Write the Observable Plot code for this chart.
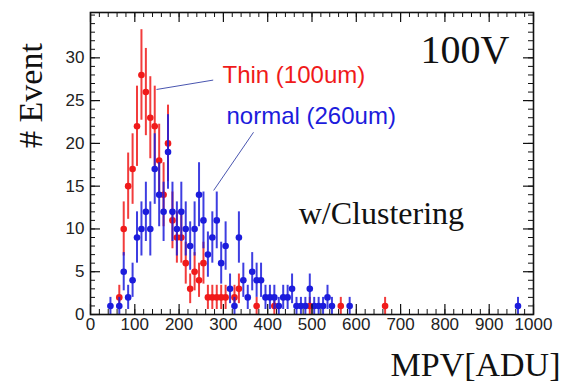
<!DOCTYPE html>
<html><head><meta charset="utf-8">
<script src="https://cdn.jsdelivr.net/npm/d3@7"></script>
<script src="https://cdn.jsdelivr.net/npm/@observablehq/plot@0.6"></script>
<style>body{margin:0;background:#fff}#chart{width:572px;height:388px}</style>
</head><body><div id="chart"></div>
<script>
// Thin (100um) histogram: bin centers (ADU) and counts
const thinX = [65,75,85,95,105,115,125,135,145,155,165,175,185,195,205,215,225,235,245,255,265,275,285,295,305,325,335,375,415,495,565,665];
const thinY = [2,10,15,17,22,28,26,23,22,18,14,20,11,9,9,6,3,5,4,6,2,2,2,2,2,2,3,1,1,1,1,1];
// normal (260um) histogram
const normalX = [45,65,75,85,95,105,115,125,135,145,155,165,175,185,195,205,215,225,235,245,255,265,275,285,295,305,315,325,335,345,355,365,375,385,395,405,415,425,435,445,455,465,475,485,495,505,515,525,535,545,585,965];
const normalY = [1,1,5,2,4,9,10,12,10,17,14,12,19,12,10,12,10,8,10,14,11,7,9,11,6,8,3,1,9,4,2,5,4,4,2,2,2,1,2,2,3,1,1,1,3,1,1,1,2,1,1,1];
// axes
const xMajorTicks = [0,100,200,300,400,500,600,700,800,900,1000];
const xMinorTicks = d3.range(0, 1001, 20);
const yMajorTicks = [0,5,10,15,20,25,30];
const yMinorTicks = d3.range(0, 36, 1);
const xDomain = [0, 1000];
const yDomain = [0, 35.3];
// annotations
const seriesNames = ["Thin (100um)", "normal (260um)"];
const seriesColors = ["#f01a1a", "#1c1cdc"];
const labelX = [298, 307];
const labelY = [27.9, 23.2];
const pointerFromX = [277, 368], pointerFromY = [27.4, 21.3];
const pointerToX = [149, 278], pointerToY = [26.3, 14.5];
const voltageText = "100V", voltageX = 745, voltageY = 30.9;
const clusterText = "w/Clustering", clusterX = 470, clusterY = 11.8;
const xTitle = "MPV[ADU]", yTitle = "# Event";

const W = 572, H = 388, mL = 90, mR = 39, mT = 12, mB = 74;
const plotW = W - mL - mR, plotH = H - mT - mB;
const majorLen = 10, minorLen = 5;

const mk = (xs, ys, s) => xs.map((x, i) => ({x, v: ys[i], lo: ys[i] - Math.sqrt(ys[i]), hi: ys[i] + Math.sqrt(ys[i]), s}));
const thin = mk(thinX, thinY, 0);
const normal = mk(normalX, normalY, 1);
const labels = seriesNames.map((t, i) => ({t, x: labelX[i], y: labelY[i], c: seriesColors[i]}));
const pointers = pointerFromX.map((x, i) => ({x1: x, y1: pointerFromY[i], x2: pointerToX[i], y2: pointerToY[i]}));

const sans = "'Liberation Sans', Arial, sans-serif";
const serif = "'Liberation Serif', 'Times New Roman', serif";

function histMarks(data, color) {
  return [
    Plot.ruleX(data, {x: "x", y1: "lo", y2: "hi", stroke: color, strokeWidth: 2, strokeOpacity: 0.85}),
    Plot.ruleY(data, {y: "v", x1: d => d.x - 5, x2: d => d.x + 5, stroke: color, strokeWidth: 2}),
    Plot.dot(data, {x: "x", y: "v", r: 3.3, fill: color, stroke: "none"})
  ];
}
function ticks() {
  const o = {stroke: "#111"};
  return [
    Plot.ruleX(xMajorTicks, {x: d => d, insetTop: plotH - majorLen, strokeWidth: 1.2, ...o}),
    Plot.ruleX(xMinorTicks, {x: d => d, insetTop: plotH - minorLen, ...o}),
    Plot.ruleX(xMajorTicks, {x: d => d, insetBottom: plotH - majorLen, strokeWidth: 1.2, ...o}),
    Plot.ruleX(xMinorTicks, {x: d => d, insetBottom: plotH - minorLen, ...o}),
    Plot.ruleY(yMajorTicks, {y: d => d, insetRight: plotW - majorLen, strokeWidth: 1.2, ...o}),
    Plot.ruleY(yMinorTicks, {y: d => d, insetRight: plotW - minorLen, ...o}),
    Plot.ruleY(yMajorTicks, {y: d => d, insetLeft: plotW - majorLen, strokeWidth: 1.2, ...o}),
    Plot.ruleY(yMinorTicks, {y: d => d, insetLeft: plotW - minorLen, ...o})
  ];
}

const chart = Plot.plot({
  width: W, height: H,
  marginLeft: mL, marginRight: mR, marginTop: mT, marginBottom: mB,
  style: {fontFamily: sans, background: "#fff", overflow: "visible"},
  x: {domain: xDomain},
  y: {domain: yDomain},
  marks: [
    ...histMarks(thin, seriesColors[0]),
    ...histMarks(normal, seriesColors[1]),
    Plot.link(pointers, {x1: "x1", y1: "y1", x2: "x2", y2: "y2", stroke: "#4a56b0", strokeWidth: 1}),
    Plot.text(labels, {x: "x", y: "y", text: "t", fill: "c", textAnchor: "start", lineAnchor: "middle", fontSize: 24, fontFamily: sans}),
    Plot.text([voltageText], {x: voltageX, y: voltageY, text: d => d, textAnchor: "start", lineAnchor: "middle", fontSize: 40, fontFamily: serif, fill: "#111"}),
    Plot.text([clusterText], {x: clusterX, y: clusterY, text: d => d, textAnchor: "start", lineAnchor: "middle", fontSize: 32, fontFamily: serif, fill: "#111"}),
    ...ticks(),
    Plot.axisX(xMajorTicks, {anchor: "bottom", tickSize: 0, tickPadding: 3, fontSize: 17, fill: "#222", label: null, tickFormat: d3.format("d")}),
    Plot.axisY(yMajorTicks, {anchor: "left", tickSize: 0, tickPadding: 6, fontSize: 17, fill: "#222", label: null, tickFormat: d3.format("d")}),
    Plot.frame({stroke: "#111", strokeWidth: 1.6}),
    Plot.text([yTitle], {frameAnchor: "top-left", dx: -59, dy: 83, rotate: -90, text: d => d, textAnchor: "middle", lineAnchor: "middle", fontSize: 34, fontFamily: serif, fill: "#111"}),
    Plot.text([xTitle], {frameAnchor: "bottom-right", dx: 27, dy: 51, text: d => d, textAnchor: "end", lineAnchor: "middle", fontSize: 34, fontFamily: serif, fill: "#111"})
  ]
});
document.getElementById("chart").append(chart);
</script>
</body></html>
